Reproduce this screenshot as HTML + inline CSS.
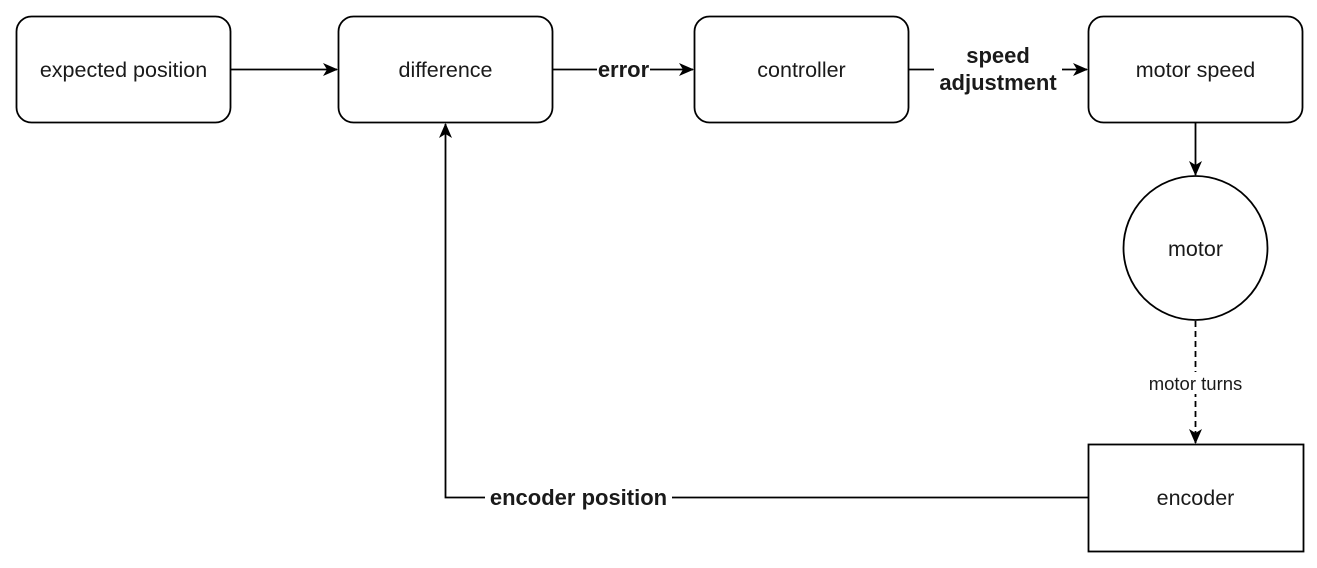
<!DOCTYPE html>
<html><head><style>
html,body{margin:0;padding:0;background:#fff;}
svg{display:block;}
text{font-family:"Liberation Sans",Arial,sans-serif;fill:#1a1a1a;}
</style></head><body>
<svg width="1317" height="568" viewBox="0 0 1317 568" xmlns="http://www.w3.org/2000/svg">
<defs>
<marker id="a" markerWidth="16" markerHeight="16" refX="14" refY="8" orient="auto" markerUnits="userSpaceOnUse">
<path d="M0,1.5 L15,8 L0,14.5 L4,8 Z" fill="#000"/>
</marker>
</defs>
<g fill="#fff" stroke="#000" stroke-width="1.8">
<rect x="16.5" y="16.5" width="214" height="106" rx="15"/>
<rect x="338.5" y="16.5" width="214" height="106" rx="15"/>
<rect x="694.5" y="16.5" width="214" height="106" rx="15"/>
<rect x="1088.5" y="16.5" width="214" height="106" rx="15"/>
<circle cx="1195.5" cy="248" r="72"/>
<rect x="1088.5" y="444.5" width="215" height="107"/>
</g>
<g stroke="#000" stroke-width="1.8" fill="none">
<line x1="231" y1="69.5" x2="337" y2="69.5" marker-end="url(#a)"/>
<line x1="553" y1="69.5" x2="693" y2="69.5" marker-end="url(#a)"/>
<line x1="909" y1="69.5" x2="1087" y2="69.5" marker-end="url(#a)"/>
<line x1="1195.5" y1="123" x2="1195.5" y2="175" marker-end="url(#a)"/>
<line x1="1195.5" y1="321" x2="1195.5" y2="443" stroke-dasharray="6,4" marker-end="url(#a)"/>
<polyline points="1088,497.5 445.5,497.5 445.5,124" marker-end="url(#a)"/>
</g>
<g font-size="21.5" text-anchor="middle">
<rect x="597" y="58" width="53" height="24" fill="#fff"/>
<rect x="934" y="40" width="128" height="56" fill="#fff"/>
<rect x="1142" y="372" width="106" height="22" fill="#fff"/>
<rect x="485" y="485" width="187" height="24" fill="#fff"/>
<text x="123.5" y="77">expected position</text>
<text x="445.5" y="77">difference</text>
<text x="801.5" y="77">controller</text>
<text x="1195.5" y="77">motor speed</text>
<text x="1195.5" y="256">motor</text>
<text x="1195.5" y="505">encoder</text>
<text x="1195.5" y="390" font-size="18.5">motor turns</text>
<g font-weight="bold" font-size="22">
<text x="623.5" y="77">error</text>
<text x="998" y="63">speed</text>
<text x="998" y="90">adjustment</text>
<text x="578.5" y="505">encoder position</text>
</g>
</g>
</svg>
</body></html>
